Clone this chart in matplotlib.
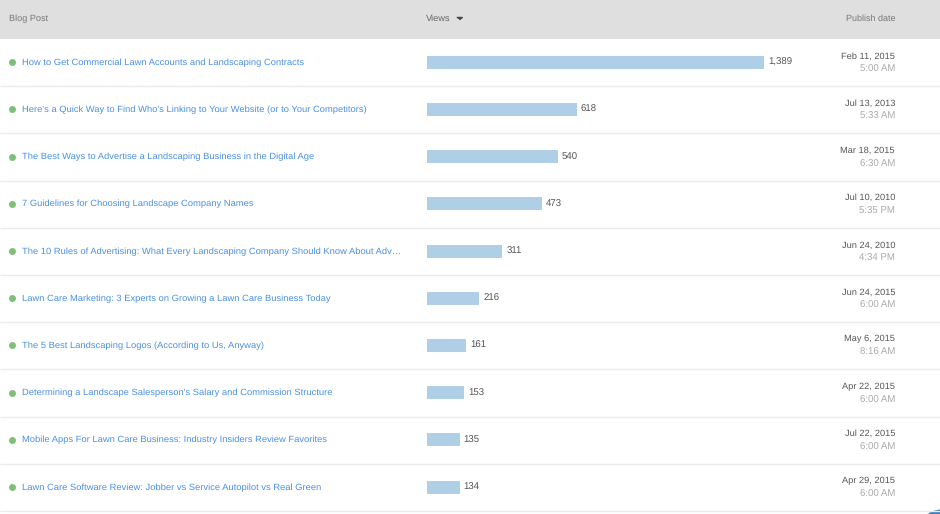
import matplotlib.pyplot as plt

posts = ["How to Get Commercial Lawn Accounts and Landscaping Contracts",
         "Here's a Quick Way to Find Who's Linking to Your Website (or to Your Competitors)",
         "The Best Ways to Advertise a Landscaping Business in the Digital Age",
         "7 Guidelines for Choosing Landscape Company Names",
         "The 10 Rules of Advertising: What Every Landscaping Company Should Know About Adv…",
         "Lawn Care Marketing: 3 Experts on Growing a Lawn Care Business Today",
         "The 5 Best Landscaping Logos (According to Us, Anyway)",
         "Determining a Landscape Salesperson's Salary and Commission Structure",
         "Mobile Apps For Lawn Care Business: Industry Insiders Review Favorites",
         "Lawn Care Software Review: Jobber vs Service Autopilot vs Real Green"]
views = [1389, 618, 540, 473, 311, 216, 161, 153, 135, 134]
dates = ["Feb 11, 2015", "Jul 13, 2013", "Mar 18, 2015", "Jul 10, 2010", "Jun 24, 2010",
         "Jun 24, 2015", "May 6, 2015", "Apr 22, 2015", "Jul 22, 2015", "Apr 29, 2015"]
times = ["5:00 AM", "5:33 AM", "6:30 AM", "5:35 PM", "4:34 PM",
         "6:00 AM", "8:16 AM", "6:00 AM", "6:00 AM", "6:00 AM"]
y = [62, 109, 156.5, 203.5, 251, 298, 345, 392.5, 439.5, 487]
lines = [86, 133, 180.5, 227.5, 275, 322, 369, 416.5, 463.5, 511]

plt.rcParams['font.family'] = ['Liberation Sans', 'DejaVu Sans']
plt.rcParams['text.hinting'] = 'no_hinting'
plt.figure(figsize=(9.4, 5.14), dpi=100)

# page, in pixels
plt.axes([0, 0, 1, 1])
plt.xlim(0, 940)
plt.ylim(514, 0)
plt.axis("off")
plt.axhspan(0, 39, color="#dfdfdf", linewidth=0)
plt.hlines(lines, 0, 940, color="#ebebeb", linewidth=1)
plt.text(9, 19, "Blog Post", fontsize=6.6, color="#777777", va="center")
plt.text(426, 19, "Views", fontsize=6.7, color="#666666", va="center")
plt.plot([459], [16.5], marker=[(-1, 0), (1, 0), (0, -0.8)], markersize=4, color="#444444", linewidth=0)
plt.text(895, 19, "Publish date", fontsize=6.5, color="#777777", va="center", ha="right")
plt.scatter([12] * 10, y, s=25, color="#7fbf7b", linewidth=0)
for i in range(10):
    plt.text(22, y[i] + 0.6, posts[i], fontsize=6.77, color="#4a90e2", va="center")
    plt.text(895, y[i] - 5.7, dates[i], fontsize=6.65, color="#555555", va="center", ha="right")
    plt.text(895, y[i] + 7.4, times[i], fontsize=6.9, color="#aaaaaa", va="center", ha="right")
plt.scatter([941], [533], s=1195, color="#3f7fbf", linewidth=0)  # corner of a button

# bars, in views
plt.axes([427 / 940, 0, 337 / 940, 1])
plt.xlim(0, 1389)
plt.ylim(514, 0)
plt.axis("off")
plt.barh(y, views, height=13, color="#aecfe5", linewidth=0)
for i in range(10):
    plt.text(views[i] + 16, y[i] + 0.6, format(views[i], ","), fontsize=6.9, color="#555555", va="center")

plt.savefig("out.png", dpi=100)
